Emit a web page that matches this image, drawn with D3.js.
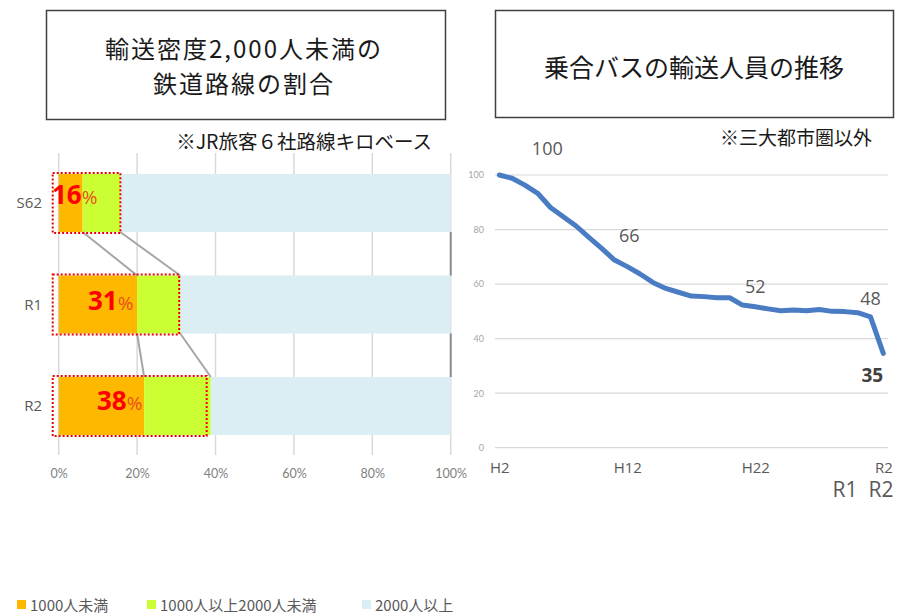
<!DOCTYPE html>
<html><head><meta charset="utf-8">
<script src="https://cdn.jsdelivr.net/npm/d3@7/dist/d3.min.js"></script>
<style>
html,body{margin:0;padding:0;background:#fff;}
svg{display:block;font-family:"Noto Sans CJK JP","Noto Sans",sans-serif;}
</style></head>
<body>
<svg id="c" width="899" height="615"></svg>
<script>
// ---- Left chart data ----
const barCategories = ["S62", "R1", "R2"];
const under1000 = [6.1, 20, 21.8];
const from1000to2000 = [9.6, 11, 17];
const over2000 = [84.3, 69, 61.2];
const shareLabels = [16, 31, 38];
const pctTicks = [0, 20, 40, 60, 80, 100];
const legendLabels = ["1000人未満", "1000人以上2000人未満", "2000人以上"];

// ---- Right chart data ----
const busYears = ["H2","H3","H4","H5","H6","H7","H8","H9","H10","H11","H12","H13","H14","H15","H16","H17","H18","H19","H20","H21","H22","H23","H24","H25","H26","H27","H28","H29","H30","R1","R2"];
const busValues = [100,98.8,96.3,93.3,88.1,84.7,81.3,77.1,73.1,68.8,66.4,63.7,60.6,58.4,57.0,55.6,55.4,55.0,55.0,52.3,51.7,50.9,50.2,50.5,50.2,50.7,50.0,49.9,49.5,48.0,34.6];
const busTickLabels = ["H2","H12","H22","R2"];
const busValueLabels = [{year:"H2",text:"100"},{year:"H12",text:"66"},{year:"H22",text:"52"},{year:"R1",text:"48"}];
const yTicks = [0,20,40,60,80,100];

const svg = d3.select("#c");
const colors = ["#FFB800", "#CCFF33", "#DAEEF3"];
const latin = "'Open Sans','Noto Sans',sans-serif";

// ===== Title boxes =====
svg.append("rect").attr("x",46.5).attr("y",10.5).attr("width",399).attr("height",109)
  .attr("fill","#fff").attr("stroke","#404040").attr("stroke-width",1.5);
svg.append("text").attr("x",244).attr("y",58).attr("text-anchor","middle")
  .attr("font-size",24).attr("letter-spacing",2).attr("fill","#1a1a1a").text("輸送密度2,000人未満の");
svg.append("text").attr("x",244).attr("y",93).attr("text-anchor","middle")
  .attr("font-size",24).attr("letter-spacing",2).attr("fill","#1a1a1a").text("鉄道路線の割合");
svg.append("text").attr("x",432).attr("y",149).attr("text-anchor","end")
  .attr("font-size",19.5).attr("fill","#1a1a1a").text("※JR旅客６社路線キロベース");

svg.append("rect").attr("x",495.5).attr("y",10.5).attr("width",398).attr("height",107)
  .attr("fill","#fff").attr("stroke","#404040").attr("stroke-width",1.5);
svg.append("text").attr("x",694).attr("y",77).attr("text-anchor","middle")
  .attr("font-size",25).attr("fill","#1a1a1a").text("乗合バスの輸送人員の推移");
svg.append("text").attr("x",872).attr("y",145).attr("text-anchor","end")
  .attr("font-size",19).attr("fill","#1a1a1a").text("※三大都市圏以外");

// ===== Left stacked bar chart =====
const x = d3.scaleLinear().domain([0,100]).range([58.7,450.7]);
const y = d3.scaleBand().domain(barCategories).range([152.25,456.75]).paddingInner(0.4286).paddingOuter(0.2143);
const L = svg.append("g");

L.selectAll("line.grid").data(pctTicks).join("line")
  .attr("x1",d=>x(d)).attr("x2",d=>x(d)).attr("y1",153).attr("y2",455)
  .attr("stroke","#d9d9d9").attr("stroke-width",1.5);

const xAxis = L.append("g").attr("transform","translate(0,466)")
  .call(d3.axisBottom(x).tickValues(pctTicks).tickFormat(d=>d+"%").tickSize(0));
xAxis.select(".domain").remove();
xAxis.selectAll("text").attr("font-size",12.5).attr("fill","#7f7f7f")
  .attr("font-family","Lato,'Noto Sans',sans-serif").attr("dy","0.71em");

const stackData = barCategories.map((c,i)=>({cat:c, a:under1000[i], b:from1000to2000[i], c:over2000[i]}));
const stack = d3.stack().keys(["a","b","c"])(stackData);
L.selectAll("g.series").data(stack).join("g").attr("fill",(d,i)=>colors[i])
  .selectAll("rect").data(d=>d).join("rect")
  .attr("x",d=>x(d[0])).attr("width",d=>x(d[1])-x(d[0]))
  .attr("y",d=>y(d.data.cat)).attr("height",y.bandwidth());

L.selectAll("text.cat").data(barCategories).join("text")
  .attr("x",42).attr("y",d=>y(d)+y.bandwidth()/2+5).attr("text-anchor","end")
  .attr("font-size",15).attr("fill","#595959").attr("font-family",latin).text(d=>d);

for (let i=0;i<barCategories.length-1;i++){
  const y0 = y(barCategories[i])+y.bandwidth(), y1 = y(barCategories[i+1]);
  const a0 = under1000[i], a1 = under1000[i+1];
  const t0 = under1000[i]+from1000to2000[i], t1b = under1000[i+1]+from1000to2000[i+1];
  [[a0,a1],[t0,t1b]].forEach(([p,q])=>{
    L.append("line").attr("x1",x(p)).attr("y1",y0).attr("x2",x(q)).attr("y2",y1)
      .attr("stroke","#a6a6a6").attr("stroke-width",2);
  });
  L.append("line").attr("x1",x(100)).attr("x2",x(100)).attr("y1",y0).attr("y2",y1)
    .attr("stroke","#8c8c8c").attr("stroke-width",2);
}

L.selectAll("rect.box").data(barCategories).join("rect")
  .attr("x",x(0)-6).attr("y",d=>y(d)-1)
  .attr("width",(d,i)=>x(shareLabels[i])-x(0)+5).attr("height",y.bandwidth()+2)
  .attr("fill","none").attr("stroke","#ee0000").attr("stroke-width",2).attr("stroke-dasharray","2,2");

const labelX = [52, 88, 97];
const labelDy = [-7, -3, -4];
barCategories.forEach((c,i)=>{
  const t = L.append("text").attr("x",labelX[i]).attr("y",y(c)+y.bandwidth()/2+labelDy[i]+8)
    .attr("font-family",latin);
  t.append("tspan").attr("font-size",26).attr("font-weight","bold").attr("fill","#ff0000").text(shareLabels[i]);
  t.append("tspan").attr("font-size",19).attr("fill","#e8501a").text("%");
});

const legX = [17, 147, 362];
legendLabels.forEach((l,i)=>{
  svg.append("rect").attr("x",legX[i]).attr("y",600).attr("width",9).attr("height",9).attr("fill",colors[i]);
  svg.append("text").attr("x",legX[i]+13).attr("y",611).attr("font-size",15).attr("fill","#595959").text(l);
});

// ===== Right line chart =====
const xr = d3.scalePoint().domain(busYears).range([499.3,883.3]);
const yr = d3.scaleLinear().domain([0,100]).range([447.7,175]);
const R = svg.append("g");

R.selectAll("line.grid").data(yTicks).join("line")
  .attr("x1",495).attr("x2",888).attr("y1",d=>yr(d)).attr("y2",d=>yr(d))
  .attr("stroke","#d9d9d9").attr("stroke-width",1.2);

const yAx = R.append("g").attr("transform","translate(484,0)")
  .call(d3.axisLeft(yr).tickValues(yTicks).tickSize(0).tickPadding(0));
yAx.select(".domain").remove();
yAx.selectAll("text").attr("font-size",9).attr("fill","#a6a6a6").attr("font-family","Lato,'Noto Sans',sans-serif");

const xAx = R.append("g").attr("transform","translate(0,462)")
  .call(d3.axisBottom(xr).tickValues(busTickLabels).tickSize(0).tickPadding(0));
xAx.select(".domain").remove();
xAx.selectAll("text").attr("font-size",15).attr("fill","#595959").attr("font-family",latin).attr("dy","0.71em");

R.append("path").datum(busValues)
  .attr("d", d3.line().x((d,i)=>xr(busYears[i])).y(d=>yr(d)).curve(d3.curveLinear))
  .attr("fill","none").attr("stroke","#4a7cc4").attr("stroke-width",5)
  .attr("stroke-linejoin","round").attr("stroke-linecap","round");

const vlOffset = {"H2":[48,-20],"H12":[2,-25],"H22":[0,-14],"R1":[0,-12]};
R.selectAll("text.vl").data(busValueLabels).join("text")
  .attr("x",d=>xr(d.year)+vlOffset[d.year][0])
  .attr("y",d=>yr(busValues[busYears.indexOf(d.year)])+vlOffset[d.year][1])
  .attr("text-anchor","middle").attr("font-size",18).attr("fill","#595959")
  .attr("font-family",latin).text(d=>d.text);

R.append("text").attr("x",xr("R2")-11).attr("y",yr(busValues[busValues.length-1])+29)
  .attr("text-anchor","middle").attr("font-size",19).attr("font-weight","bold").attr("fill","#404040")
  .attr("font-family",latin).text(Math.round(busValues[busValues.length-1]));

R.append("text").attr("x",845).attr("y",497).attr("text-anchor","middle").attr("font-size",21).attr("fill","#595959")
  .attr("font-family",latin).text("R1");
R.append("text").attr("x",881).attr("y",497).attr("text-anchor","middle").attr("font-size",21).attr("fill","#595959")
  .attr("font-family",latin).text("R2");
</script>
</body></html>
